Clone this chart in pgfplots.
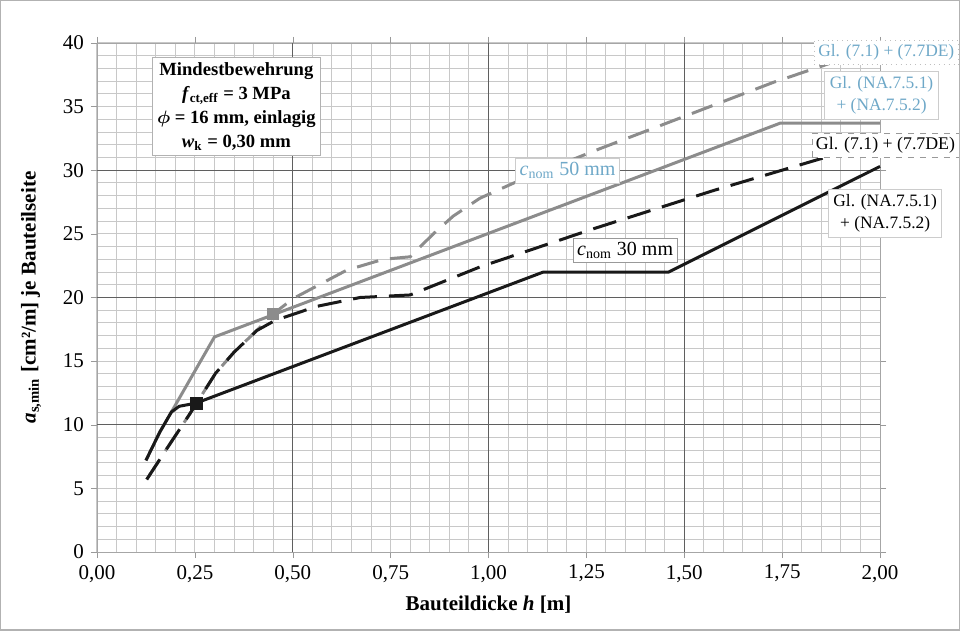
\documentclass[border=0pt]{standalone}
\usepackage{fontspec}
\setmainfont{Liberation Serif}
\usepackage{amsmath}
\usepackage{pgfplots}
\pgfplotsset{compat=1.18}

\definecolor{lblue}{RGB}{110,168,200}
\definecolor{gline}{RGB}{140,140,140}
\definecolor{bline}{RGB}{25,25,25}
\definecolor{gridmin}{RGB}{200,200,200}
\definecolor{gridmaj}{RGB}{95,95,95}

\begin{document}
\begin{tikzpicture}
\begin{axis}[
    name=ax,
    scale only axis,
    width=391.5pt, height=254.5pt,
    xmin=0, xmax=2, ymin=0, ymax=40,
    xtick={0,0.25,0.5,0.75,1,1.25,1.5,1.75,2},
    ytick={0,5,10,15,20,25,30,35,40},
    minor x tick num=4,
    minor y tick num=4,
    grid=both,
    major grid style={draw=gridmin, line width=0.5pt},
    minor grid style={draw=gridmin, line width=0.5pt},
    extra x ticks={0.5,1,1.5},
    extra x tick labels={},
    extra y ticks={10,20,30},
    extra y tick labels={},
    extra tick style={major grid style={draw=gridmaj, line width=0.6pt}},
    axis line style={draw=gray!70},
    tick style={draw=gray!80},
    tick align=outside,
    major tick length=3pt,
    minor tick length=0pt,
    tick label style={font=\fontsize{10.5}{12}\selectfont},
    /pgf/number format/assume math mode=true,
    xticklabel style={/pgf/number format/.cd, fixed, fixed zerofill, precision=2, use comma},
    yticklabel style={/pgf/number format/.cd, fixed, precision=0},
    xlabel={\textbf{Bauteildicke \textit{h} [m]}},
    ylabel={\textbf{\textit{a}\textsubscript{s,min} [cm²/m] je Bauteilseite}},
    label style={font=\fontsize{10.5}{12}\selectfont},
    xlabel style={yshift=6pt},
    ylabel style={yshift=-2pt},
    clip=false,
]
% c_nom 50 mm, Gl. (7.1) + (7.7DE)
\addplot[draw=gline, line width=1.5pt, dash pattern=on 11pt off 6pt] coordinates {
    (0.127,5.7) (0.18,8.2) (0.238,10.9) (0.303,14.05) (0.35,15.7) (0.408,17.4)
    (0.45,18.7) (0.50,19.9) (0.638,22.15) (0.731,23.0) (0.80,23.2) (0.859,25.0)
    (0.91,26.4) (0.978,27.8) (1.072,29.1) (1.285,31.7) (1.727,36.9) (1.872,38.4)
};
% c_nom 50 mm, Gl. (NA.7.5.1) + (NA.7.5.2)
\addplot[draw=gline, line width=1.5pt] coordinates {
    (0.125,7.2) (0.16,9.4) (0.19,11.0) (0.30,16.9) (1.745,33.7) (2.0,33.7)
};
% c_nom 30 mm, Gl. (7.1) + (7.7DE)
\addplot[draw=bline, line width=1.5pt, dash pattern=on 12pt off 6pt] coordinates {
    (0.127,5.7) (0.18,8.2) (0.238,10.9) (0.303,14.05) (0.35,15.7) (0.408,17.4)
    (0.455,18.2) (0.561,19.3) (0.672,20.0) (0.80,20.2) (0.978,22.4) (1.268,25.4)
    (1.574,28.4) (1.87,31.1)
};
% c_nom 30 mm, Gl. (NA.7.5.1) + (NA.7.5.2)
\addplot[draw=bline, line width=1.5pt] coordinates {
    (0.125,7.2) (0.16,9.4) (0.19,11.0) (0.21,11.45) (0.253,11.7) (1.14,22.0)
    (1.46,22.0) (2.0,30.3)
};
% Schnittpunkte
\addplot[only marks, mark=square*, mark size=3pt, color=bline] coordinates {(0.253,11.7)};
\addplot[only marks, mark=square*, mark size=2.8pt, color=gline] coordinates {(0.45,18.7)};

\node[draw=gray!60, fill=white, align=center, inner sep=2.5pt,
      font=\fontsize{9.3}{12}\selectfont\bfseries]
    at (axis cs:0.356,35.0)
    {Mindestbewehrung\\
     \textit{f}\textsubscript{ct,eff} = 3 MPa\\
     $\boldsymbol{\phi}$ = 16 mm, einlagig\\
     \textit{w}\textsubscript{k} = 0,30 mm};

\node[draw=gray!50, dotted, fill=white, text=lblue, inner sep=2pt,
      font=\fontsize{8.7}{10}\selectfont]
    at (axis cs:2.016,39.24) {Gl. (7.1) + (7.7DE)};
\node[draw=gray!40, fill=white, text=lblue, align=center, inner sep=2.5pt,
      font=\fontsize{8.7}{11}\selectfont]
    at (axis cs:2.004,35.9) {Gl. (NA.7.5.1)\\+ (NA.7.5.2)};
\node[draw=gray!80, dashed, fill=white, text=black, inner sep=2pt,
      font=\fontsize{8.9}{10}\selectfont]
    at (axis cs:2.014,31.95) {Gl. (7.1) + (7.7DE)};
\node[draw=gray!40, fill=white, text=black, align=center, inner sep=2.5pt,
      font=\fontsize{8.7}{11}\selectfont]
    at (axis cs:2.013,26.6) {Gl. (NA.7.5.1)\\+ (NA.7.5.2)};
\node[draw=gray!40, fill=white, text=lblue, inner sep=2pt,
      font=\fontsize{10}{12}\selectfont]
    at (axis cs:1.202,29.95) {\textit{c}\textsubscript{nom} 50 mm};
\node[draw=gray!80, fill=white, text=black, inner sep=2pt,
      font=\fontsize{10}{12}\selectfont]
    at (axis cs:1.349,23.7) {\textit{c}\textsubscript{nom} 30 mm};
\end{axis}
\draw[gray!60, line width=0.6pt]
    ([shift={(-48.5pt,-39pt)}]ax.south west) rectangle ([shift={(40pt,21.5pt)}]ax.north east);
\pgfresetboundingbox
\path[use as bounding box]
    ([shift={(-48.5pt,-39pt)}]ax.south west) rectangle ([shift={(40pt,21.5pt)}]ax.north east);
\end{tikzpicture}
\end{document}
